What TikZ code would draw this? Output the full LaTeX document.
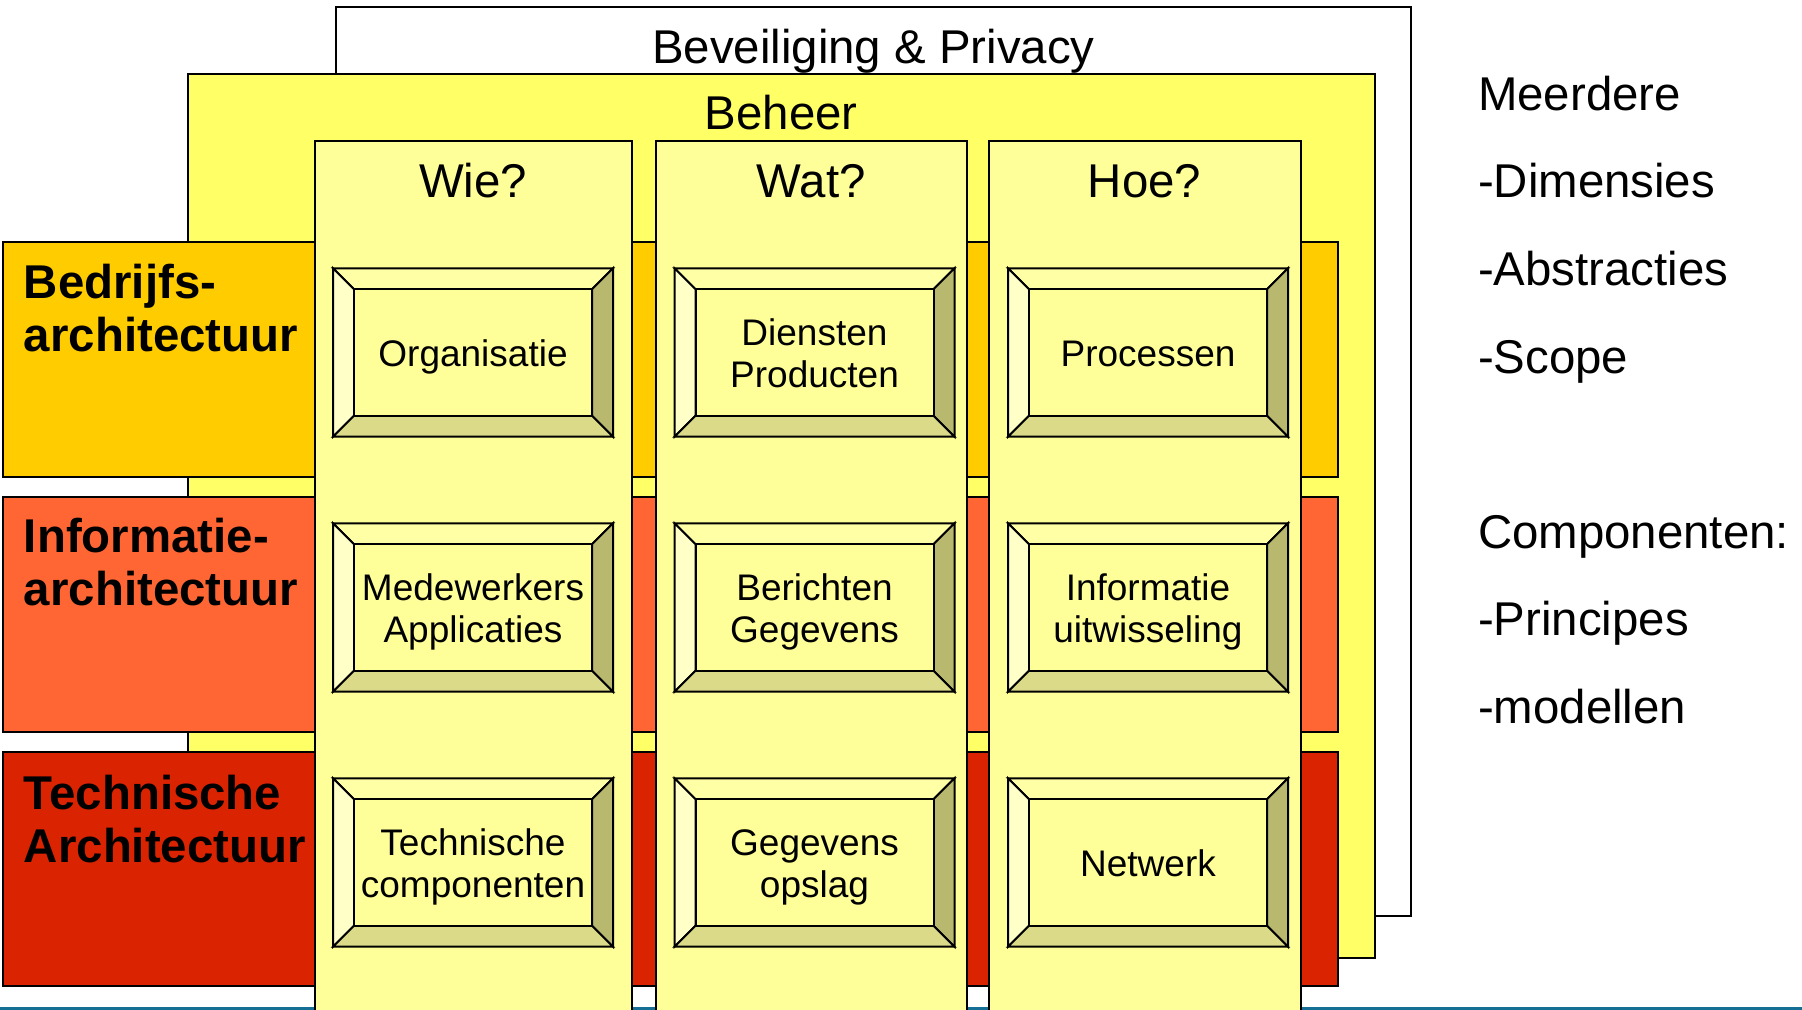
\documentclass[tikz,border=0pt]{standalone}
\usepackage{fontspec}
\setmainfont{Liberation Sans}
\definecolor{gold}{HTML}{FFCC00}
\definecolor{orng}{HTML}{FF6633}
\definecolor{redd}{HTML}{DA2300}
\definecolor{beheerc}{HTML}{FFFF66}
\definecolor{colfill}{HTML}{FFFF99}
\definecolor{bvtop}{HTML}{FFFFA6}
\definecolor{bvleft}{HTML}{FFFFC8}
\definecolor{bvright}{HTML}{B8B86E}
\definecolor{bvbot}{HTML}{DADA88}
\definecolor{blueline}{HTML}{156E93}
\tikzset{
  big/.style={font=\fontsize{23.7pt}{28pt}\selectfont, inner sep=0pt},
  rowlabel/.style={font=\fontsize{23.7pt}{26.5pt}\selectfont\bfseries, align=left, anchor=north west, inner sep=0pt},
  sidelist/.style={font=\fontsize{23.7pt}{43.8pt}\selectfont, align=left, anchor=north west, inner sep=0pt},
  boxtext/.style={font=\fontsize{18.5pt}{20.8pt}\selectfont, align=center, inner sep=0pt},
  band/.style={draw=black, line width=1pt},
}
\newcommand\bevbox[6]{%
  \filldraw[fill=bvtop] (#2,#3) -- (#4,#3) -- ({#4-21},{#3+21}) -- ({#2+21},{#3+21}) -- cycle;
  \filldraw[fill=bvleft] (#2,#3) -- ({#2+21},{#3+21}) -- ({#2+21},{#5-21}) -- (#2,#5) -- cycle;
  \filldraw[fill=bvright] (#4,#3) -- (#4,#5) -- ({#4-21},{#5-21}) -- ({#4-21},{#3+21}) -- cycle;
  \filldraw[fill=bvbot] (#2,#5) -- (#4,#5) -- ({#4-21},{#5-21}) -- ({#2+21},{#5-21}) -- cycle;
  \filldraw[fill=colfill] ({#2+21},{#3+21}) rectangle ({#4-21},{#5-21});
  \node[boxtext] (#1) at ({(#2+#4)/2},{(#3+#5)/2+5.8}) {#6};
}
\begin{document}
\begin{tikzpicture}[x=0.5pt,y=-0.5pt,line width=1pt,line join=miter]
\useasboundingbox (0,0) rectangle (1802,1010);
% outer frames
\filldraw[fill=white] (335.8,6.7) rectangle (1410.9,916.2);
\filldraw[fill=beheerc] (188.3,73.7) rectangle (1374.5,958.3);
% row bands
\filldraw[band, fill=gold] (3,242) rectangle (1337.5,477.3);
\filldraw[band, fill=orng] (3,496.7) rectangle (1337.5,731.7);
\filldraw[band, fill=redd] (3,751.7) rectangle (1337.5,986.3);
% bottom line
\fill[blueline] (0,1006.7) rectangle (1802,1012);
% titles
\node[big, anchor=base] (bev) at (873.4,63.3) {Beveiliging \& Privacy};
\node[big, anchor=base] (beh) at (781.3,130) {Beheer};
% columns
\foreach \a/\b in {314.6/631.5, 655.6/967.2, 989/1300.5}{
  \fill[colfill] (\a,141.3) rectangle (\b,1012);
  \draw (\a,1012) -- (\a,141.3) -- (\b,141.3) -- (\b,1012);
}
\node[big, anchor=base] (wie) at (473,197.3) {Wie?};
\node[big, anchor=base] (wat) at (811.4,197.3) {Wat?};
\node[big, anchor=base] (hoe) at (1144.5,197.3) {Hoe?};
% boxes
\bevbox{org}{333}{268.3}{613}{436.7}{\strut Organisatie}
\bevbox{dien}{674.5}{268.3}{954.5}{436.7}{\strut Diensten\\\strut Producten}
\bevbox{proc}{1008}{268.3}{1288}{436.7}{\strut Processen}
\bevbox{med}{333}{523.3}{613}{691.7}{\strut Medewerkers\\\strut Applicaties}
\bevbox{ber}{674.5}{523.3}{954.5}{691.7}{\strut Berichten\\\strut Gegevens}
\bevbox{inf}{1008}{523.3}{1288}{691.7}{\strut Informatie\\\strut uitwisseling}
\bevbox{tech}{333}{778.3}{613}{946.7}{\strut Technische\\\strut componenten}
\bevbox{geg}{674.5}{778.3}{954.5}{946.7}{\strut Gegevens\\\strut opslag}
\bevbox{netw}{1008}{778.3}{1288}{946.7}{\strut Netwerk}
% row labels
\node[rowlabel] (rl1) at (23,260.6) {\strut Bedrijfs-\\architectuur};
\node[rowlabel] (rl2) at (23,514.6) {\strut Informatie-\\architectuur};
\node[rowlabel] (rl3) at (23,771.2) {\strut Technische\\Architectuur};
% side list
\node[sidelist] (side) at (1477,48) {\strut Meerdere\\-Dimensies\\-Abstracties\\-Scope\\[43.8pt]Componenten:\\-Principes\\-modellen};
\end{tikzpicture}
\end{document}
